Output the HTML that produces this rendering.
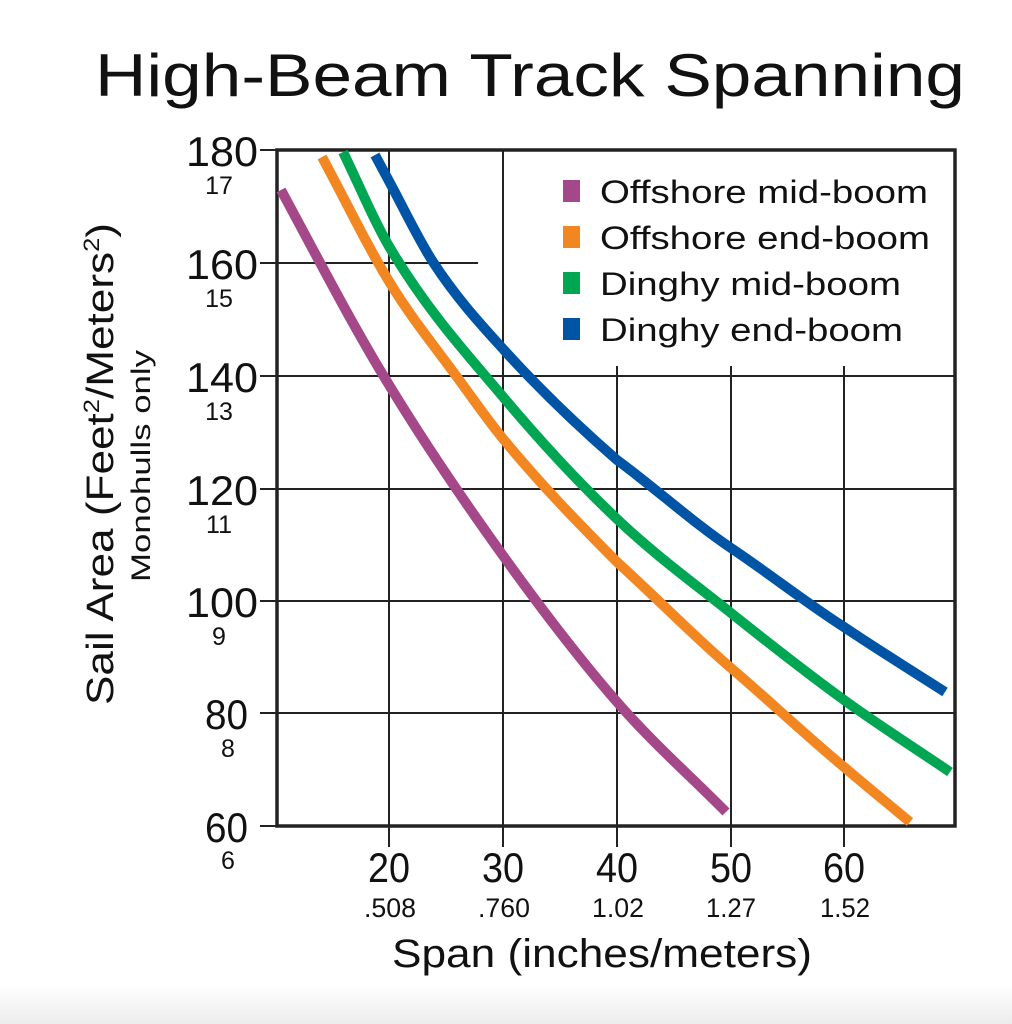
<!DOCTYPE html>
<html><head><meta charset="utf-8"><style>
html,body{margin:0;padding:0;background:#fff;}
svg{display:block;}
text{font-family:"Liberation Sans",Arial,sans-serif;fill:#111;}
</style></head><body>
<svg width="1012" height="1024" viewBox="0 0 1012 1024" xmlns="http://www.w3.org/2000/svg">
<defs><linearGradient id="g" x1="0" y1="0" x2="0" y2="1"><stop offset="0" stop-color="#fff"/><stop offset="1" stop-color="#ececec"/></linearGradient></defs>
<rect x="0" y="985" width="1012" height="39" fill="url(#g)"/>
<text x="95" y="96" font-size="60" textLength="870" lengthAdjust="spacingAndGlyphs">High-Beam Track Spanning</text>
<g stroke="#222" stroke-width="2">
<line x1="389" y1="150" x2="389" y2="847"/>
<line x1="503" y1="150" x2="503" y2="847"/>
<line x1="617" y1="366" x2="617" y2="847"/>
<line x1="731" y1="366" x2="731" y2="847"/>
<line x1="844" y1="366" x2="844" y2="847"/>
<line x1="260" y1="263" x2="478" y2="263"/>
<line x1="260" y1="376" x2="955" y2="376"/>
<line x1="260" y1="489" x2="955" y2="489"/>
<line x1="260" y1="601" x2="955" y2="601"/>
<line x1="260" y1="713" x2="955" y2="713"/>
<line x1="260" y1="150" x2="277" y2="150"/>
<line x1="260" y1="826" x2="277" y2="826"/>
</g>
<rect x="277" y="150" width="678" height="676" fill="none" stroke="#222" stroke-width="3.5"/>
<g fill="none" stroke-width="10" stroke-linecap="butt">
<path d="M281,190 C315,252.9 349,318.6 383,375 C423.3,442 463.7,500.9 504,557 C541.7,609.4 579.3,658.8 617,702 C653.3,743.6 689.7,775.3 726,812" stroke="#a5488a"/>
<path d="M322,157 C344.7,198.9 367.3,246.2 390,283 C412.3,319.3 434.7,346.4 457,377 C472.7,398.5 488.3,421 504,440 C541.7,485.6 579.3,524.1 617,562 C655,596.4 693,635.5 731,668 C768.7,700.2 806.3,735.7 844,767 C866,785.8 888,803.7 910,822" stroke="#f28722"/>
<path d="M343,152 C358.7,184 374.3,221.7 390,248 C428,311.8 466,352.8 504,398 C541.7,442.8 579.3,483.2 617,519 C655,555.1 693,582.6 731,613 C768.7,643.1 806.3,672.7 844,700 C879.3,725.6 914.7,748 950,772" stroke="#00a651"/>
<path d="M375,155 C380,164.4 385,173.7 390,183 C404.3,209.6 418.7,239.9 433,262 C456.7,298.4 480.3,323.8 504,350 C541.7,391.6 579.3,427.2 617,460 C655,487.9 693,522.5 731,548 C768.7,573.2 806.3,602.9 844,627 C877.7,649.6 911.3,670.5 945,692" stroke="#0054a6"/>
</g>
<rect x="563" y="180" width="17" height="22" fill="#a5488a"/>
<rect x="563" y="226" width="17" height="22" fill="#f28722"/>
<rect x="563" y="272" width="17" height="22" fill="#00a651"/>
<rect x="563" y="318" width="17" height="22" fill="#0054a6"/>
<g font-size="32">
<text x="600" y="203" textLength="328" lengthAdjust="spacingAndGlyphs">Offshore mid-boom</text>
<text x="600" y="249" textLength="330" lengthAdjust="spacingAndGlyphs">Offshore end-boom</text>
<text x="600" y="295" textLength="301" lengthAdjust="spacingAndGlyphs">Dinghy mid-boom</text>
<text x="600" y="341" textLength="303" lengthAdjust="spacingAndGlyphs">Dinghy end-boom</text>
</g>
<g font-size="42" text-anchor="end">
<text x="258" y="166" textLength="72" lengthAdjust="spacingAndGlyphs">180</text>
<text x="258" y="279" textLength="72" lengthAdjust="spacingAndGlyphs">160</text>
<text x="258" y="392" textLength="72" lengthAdjust="spacingAndGlyphs">140</text>
<text x="258" y="505" textLength="72" lengthAdjust="spacingAndGlyphs">120</text>
<text x="258" y="617" textLength="72" lengthAdjust="spacingAndGlyphs">100</text>
<text x="248" y="729" textLength="43" lengthAdjust="spacingAndGlyphs">80</text>
<text x="248" y="842" textLength="43" lengthAdjust="spacingAndGlyphs">60</text>
</g>
<g font-size="25" text-anchor="middle">
<text x="219" y="194">17</text>
<text x="219" y="307">15</text>
<text x="219" y="420">13</text>
<text x="219" y="533">11</text>
<text x="219" y="645">9</text>
<text x="228" y="757">8</text>
<text x="228" y="869">6</text>
</g>
<g font-size="42" text-anchor="middle">
<text x="389" y="882" textLength="42" lengthAdjust="spacingAndGlyphs">20</text>
<text x="503" y="882" textLength="42" lengthAdjust="spacingAndGlyphs">30</text>
<text x="617" y="882" textLength="42" lengthAdjust="spacingAndGlyphs">40</text>
<text x="731" y="882" textLength="42" lengthAdjust="spacingAndGlyphs">50</text>
<text x="844" y="882" textLength="42" lengthAdjust="spacingAndGlyphs">60</text>
</g>
<g font-size="27" text-anchor="middle">
<text x="390" y="917" textLength="52" lengthAdjust="spacingAndGlyphs">.508</text>
<text x="504" y="917" textLength="52" lengthAdjust="spacingAndGlyphs">.760</text>
<text x="618" y="917" textLength="52" lengthAdjust="spacingAndGlyphs">1.02</text>
<text x="731" y="917" textLength="50" lengthAdjust="spacingAndGlyphs">1.27</text>
<text x="845" y="917" textLength="50" lengthAdjust="spacingAndGlyphs">1.52</text>
</g>
<text x="392" y="967" font-size="40" textLength="420" lengthAdjust="spacingAndGlyphs">Span (inches/meters)</text>
<text transform="translate(113,705) rotate(-90)" font-size="38" textLength="482" lengthAdjust="spacingAndGlyphs">Sail Area (Feet<tspan font-size="22" dy="-14">2</tspan><tspan dy="14">/Meters</tspan><tspan font-size="22" dy="-14">2</tspan><tspan dy="14">)</tspan></text>
<text transform="translate(150,582) rotate(-90)" font-size="27" textLength="232" lengthAdjust="spacingAndGlyphs">Monohulls only</text>
</svg>
</body></html>
